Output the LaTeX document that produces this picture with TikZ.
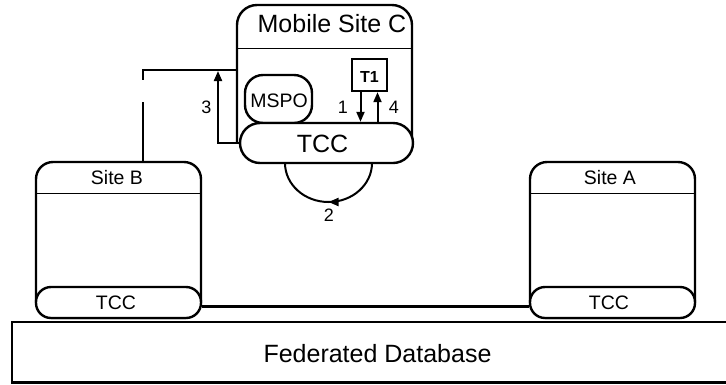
\documentclass[tikz,border=0pt]{standalone}
\usepackage{fontspec}
\setmainfont{Liberation Sans}
\usetikzlibrary{arrows.meta,decorations.markings}
\begin{document}
\begin{tikzpicture}[x=1pt,y=-1pt,
  outline/.style={draw,line width=2.4pt},
  divider/.style={draw,line width=1pt},
  sitebox/.style={outline,rectangle,rounded corners=17pt,minimum width=165pt,minimum height=156pt,inner sep=0pt},
  tccbig/.style={outline,fill=white,rectangle,rounded corners=20pt,minimum width=173pt,minimum height=40pt,inner sep=0pt},
  tccsmall/.style={outline,fill=white,rectangle,rounded corners=15pt,minimum width=165pt,minimum height=31pt,inner sep=0pt},
  arr/.style={line width=2pt,-{Triangle[length=10pt,width=8pt]}},
  conn/.style={line width=2.2pt},
  txt/.style={inner sep=0pt,anchor=base},
  bigfont/.style={font=\fontsize{25}{25}\selectfont},
  midfont/.style={font=\fontsize{19.5}{19.5}\selectfont},
  numfont/.style={font=\fontsize{18}{18}\selectfont},
]
\useasboundingbox (0,0) rectangle (726,384);

% Federated database (open on the right, runs off the page)
\draw[outline] (730,322) -- (12,322) -- (12,382.5) -- (730,382.5);
\node[txt,bigfont] (fdb) at (377.5,362) {Federated Database};

% Site B
\node[sitebox] (B) at (118.5,240) {};
\draw[divider] (36,193) -- (201,193);
\node[txt,midfont] (Bt) at (117,184) {Site B};
\node[tccsmall] (tccB) at (118.5,302.5) {};
\node[txt,midfont] at (116,309) {TCC};

% Site A
\node[sitebox] (A) at (612.5,240) {};
\draw[divider] (530,193) -- (695,193);
\node[txt,midfont] (At) at (610,184) {Site A};
\node[tccsmall] (tccA) at (612.5,302.5) {};
\node[txt,midfont] at (609,309) {TCC};

% link between the two TCCs
\draw[conn] ([yshift=-4pt]tccB.east) -- ([yshift=-4pt]tccA.west);

% Mobile Site C
\draw[outline,rounded corners=20pt] (237,143) -- (237,5) -- (412,5) -- (412,143);
\draw[divider] (237,48) -- (412,48);
\node[txt,bigfont] (Ct) at (332,32) {Mobile Site C};
\node[outline,rectangle,rounded corners=18pt,minimum width=67pt,minimum height=48pt,inner sep=0pt] (mspo) at (278.5,99) {};
\node[txt,font=\fontsize{19.5}{19.5}\selectfont] at (279,107) {MSPO};
\node[tccbig] (tccC) at (326.5,143) {};
\node[txt,bigfont] at (322.5,152) {TCC};
\node[outline,rectangle,minimum width=35pt,minimum height=32pt,inner sep=0pt] (T1) at (369.5,75) {};
\node[txt,font=\fontsize{16}{16}\selectfont\bfseries] at (369.5,82) {T1};

% arrows 1 and 4
\coordinate (a1) at ([xshift=-9pt]T1.south);
\coordinate (a4) at ([xshift=8pt]T1.south);
\draw[arr] (a1) -- (a1 |- tccC.north);
\draw[arr] (a4 |- tccC.north) -- (a4);
\node[txt,numfont] at (343,113) {1};
\node[txt,numfont] at (394,113) {4};

% arrow 3 and link to Site B (with a break)
\coordinate (j3) at (218,71);
\draw[arr] (tccC.west) -| (j3);
\node[txt,numfont] at (206.5,113) {3};
\coordinate (cleft) at (237,70);
\coordinate (corner) at (143,70);
\coordinate (brk1) at (143,80);
\coordinate (brk2) at (143,102);
\coordinate (Btop) at (143,162);
\draw[conn] (cleft) -- (corner) -- (brk1);
\draw[conn] (brk2) -- (Btop);

% loop 2
\coordinate (l2r) at (372,163);
\draw[line width=2pt,postaction={decorate},
  decoration={markings,mark=at position 0.5 with {\arrow{Triangle[length=10pt,width=8pt]}}}]
  (l2r) arc[start angle=0,end angle=180,x radius=43.5,y radius=39];
\node[txt,numfont] at (329,221) {2};
\end{tikzpicture}
\end{document}
